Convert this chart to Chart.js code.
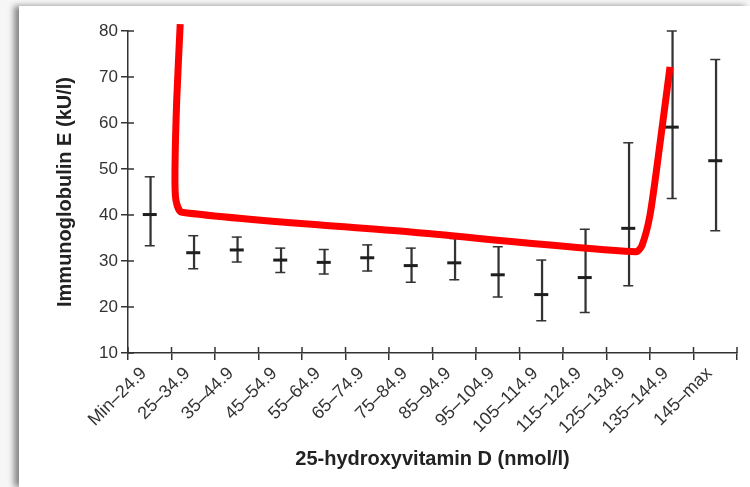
<!DOCTYPE html>
<html>
<head>
<meta charset="utf-8">
<script src="https://cdn.jsdelivr.net/npm/chart.js@4.4.1/dist/chart.umd.min.js"></script>
<style>
  html, body { margin: 0; padding: 0; }
  body { width: 750px; height: 487px; background: #f6f6f6; overflow: hidden; position: relative; }
  .panel {
    position: absolute; left: 19px; top: 6px; width: 731px; height: 481px;
    background: #fff; box-shadow: -5px 0 6px rgba(0, 0, 0, 0.45);
  }
</style>
</head>
<body>
<div class="panel"><canvas id="ige-chart" width="731" height="481"></canvas></div>
<script>
// Vitamin D bands
const categories = ['Min–24.9', '25–34.9', '35–44.9', '45–54.9', '55–64.9', '65–74.9', '75–84.9',
  '85–94.9', '95–104.9', '105–114.9', '115–124.9', '125–134.9', '135–144.9', '145–max'];

// IgE mean and interval per band (kU/l)
const means = [40.1, 31.8, 32.4, 30.2, 29.7, 30.7, 29.0, 29.6, 27.0, 22.7, 26.4, 37.1, 59.1, 51.8];
const lower = [33.3, 28.3, 29.8, 27.5, 27.2, 27.8, 25.4, 25.9, 22.2, 17.0, 18.8, 24.6, 43.6, 36.6];
const upper = [48.3, 35.5, 35.2, 32.8, 32.5, 33.5, 32.8, 34.9, 33.1, 30.2, 36.9, 55.7, 80.0, 73.8];

// Hand-drawn U-shaped trend (x in band index units)
const trendX = [0.70, 0.62, 0.58, 0.60, 0.74, 6.0, 11.18, 11.32, 11.50, 11.71, 11.96];
const trendY = [81.5, 65.0, 49.8, 43.3, 40.6, 36.3, 32.0, 33.5, 40.0, 54.1, 72.2];

const yTicks = [10, 20, 30, 40, 50, 60, 70, 80];

const axisColor = '#333';
const barColor = '#333';

// Inner halves of the tick marks (the library only draws the outer half)
const innerTicks = {
  id: 'innerTicks',
  afterDraw(chart) {
    const ctx = chart.ctx;
    const x = chart.scales.x2;
    const y = chart.scales.y;
    const area = chart.chartArea;
    ctx.save();
    ctx.strokeStyle = axisColor;
    ctx.lineWidth = 1.5;
    ctx.beginPath();
    yTicks.forEach(v => {
      const py = y.getPixelForValue(v);
      ctx.moveTo(area.left, py);
      ctx.lineTo(area.left + 6, py);
    });
    for (let k = 0; k <= categories.length; k++) {
      const px = x.getPixelForValue(k - 0.5);
      ctx.moveTo(px, area.bottom);
      ctx.lineTo(px, area.bottom - 6);
    }
    ctx.stroke();
    ctx.restore();
  }
};

const fontFamily = "'Liberation Sans', Arial, sans-serif";
const titleFont = { family: fontFamily, size: 20, weight: 'bold' };

new Chart(document.getElementById('ige-chart'), {
  type: 'bar',
  data: {
    labels: categories,
    datasets: [
      {
        type: 'line',
        label: 'trend',
        data: trendX.map((x, i) => ({ x: x, y: trendY[i] })),
        xAxisID: 'x2',
        borderColor: '#ff0000',
        borderWidth: 7,
        borderJoinStyle: 'round',
        borderCapStyle: 'butt',
        pointRadius: 0,
        tension: 0.25,
        clip: false,
        order: 0
      },
      {
        label: 'mean',
        type: 'line',
        data: means,
        showLine: false,
        pointStyle: 'line',
        pointRadius: 7,
        pointBorderWidth: 3,
        pointBorderColor: '#1e1e1e',
        order: 1
      },
      {
        label: 'upper',
        type: 'line',
        data: upper,
        showLine: false,
        pointStyle: 'line',
        pointRadius: 5,
        pointBorderWidth: 1.5,
        pointBorderColor: barColor,
        clip: false,
        order: 2
      },
      {
        label: 'lower',
        type: 'line',
        data: lower,
        showLine: false,
        pointStyle: 'line',
        pointRadius: 5,
        pointBorderWidth: 1.5,
        pointBorderColor: barColor,
        order: 2
      },
      {
        label: 'interval',
        data: lower.map((lo, i) => [lo, upper[i]]),
        backgroundColor: barColor,
        barThickness: 1.6,
        order: 3
      }
    ]
  },
  options: {
    responsive: false,
    animation: false,
    layout: { padding: { left: 0, top: 25, right: 13, bottom: 0 } },
    plugins: {
      legend: { display: false },
      tooltip: { enabled: false }
    },
    scales: {
      x: {
        offset: true,
        grid: { drawOnChartArea: false, offset: true, tickLength: 7, color: axisColor, lineWidth: 1.5 },
        border: { color: axisColor, width: 1.5 },
        ticks: { color: '#333', font: { family: fontFamily, size: 18 }, minRotation: 45, maxRotation: 45, padding: 3, labelOffset: -6 },
        title: { display: true, text: '25-hydroxyvitamin D (nmol/l)', color: '#222', font: titleFont, padding: { top: 0, bottom: 16 } },
        afterFit(scale) { scale.height = 134; }
      },
      // hidden linear twin of the band axis, used by the trend line
      x2: {
        type: 'linear',
        display: false,
        offset: false,
        min: -0.5,
        max: categories.length - 0.5
      },
      y: {
        min: 10,
        max: 80,
        afterBuildTicks(scale) { scale.ticks = yTicks.map(v => ({ value: v })); },
        grid: { drawOnChartArea: false, tickLength: 7, color: axisColor, lineWidth: 1.5 },
        border: { color: axisColor, width: 1.5 },
        ticks: { color: '#333', font: { family: fontFamily, size: 17 }, padding: 3 },
        title: { display: true, text: 'Immunoglobulin E (kU/l)', color: '#222', font: titleFont, padding: { top: 34, bottom: 0 } },
        afterFit(scale) { scale.width = 109; }
      }
    }
  },
  plugins: [innerTicks]
});
</script>
</body>
</html>
